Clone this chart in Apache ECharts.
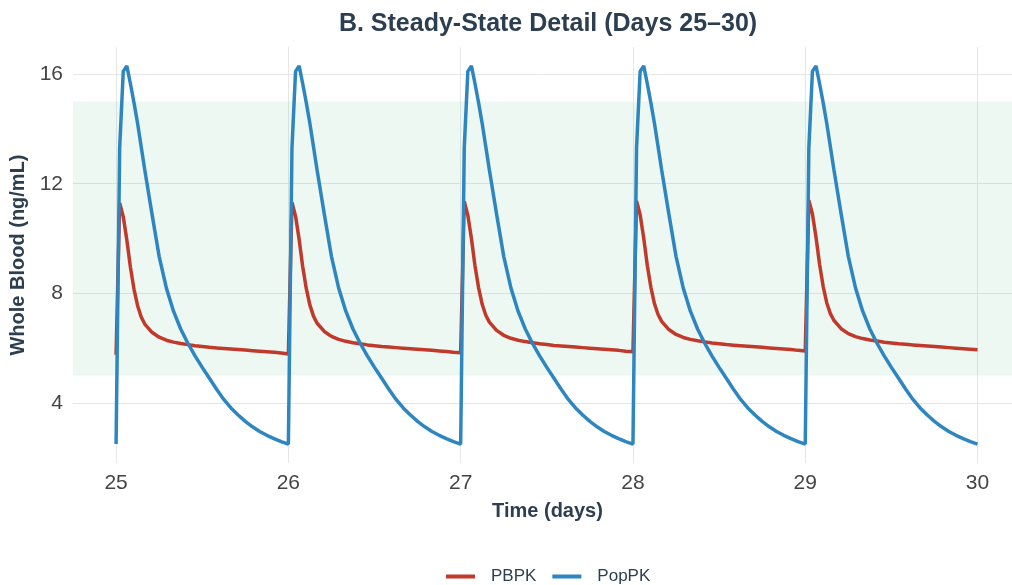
<!DOCTYPE html>
<html>
<head>
<meta charset="utf-8">
<script src="https://cdn.jsdelivr.net/npm/echarts@6/dist/echarts.min.js"></script>
<style>
  html, body { margin: 0; padding: 0; background: #ffffff; }
  #chart { width: 1012px; height: 585px; }
</style>
</head>
<body>
<div id="chart"></div>
<script>
// ---- Data ----
const titleText = 'B. Steady-State Detail (Days 25\u201330)';
const doseDays = [25, 26, 27, 28, 29];
const endDay = 30;
// sampling times within each dosing day (hours after dose)
const hoursAfterDose = [0, 0.5, 1, 1.5, 2, 2.5, 3, 3.5, 4, 5, 6, 7, 8, 9, 10, 11, 12, 13, 14, 15, 16, 17, 18, 19, 20, 21, 22, 23];

// PBPK whole-blood concentration (ng/mL), one row per dosing day
const pbpkValues = [
  [5.76, 11.30, 10.80, 9.95, 8.95, 8.15, 7.55, 7.14, 6.88, 6.58, 6.40, 6.29, 6.22, 6.17, 6.13, 6.09, 6.06, 6.03, 6.01, 5.99, 5.97, 5.95, 5.93, 5.91, 5.89, 5.87, 5.85, 5.82],
  [5.79, 11.32, 10.82, 9.97, 8.97, 8.17, 7.57, 7.17, 6.91, 6.61, 6.43, 6.32, 6.25, 6.20, 6.16, 6.12, 6.09, 6.06, 6.04, 6.02, 6.00, 5.98, 5.96, 5.94, 5.92, 5.90, 5.88, 5.85],
  [5.83, 11.35, 10.85, 10.00, 9.00, 8.20, 7.60, 7.20, 6.95, 6.65, 6.47, 6.36, 6.29, 6.24, 6.20, 6.16, 6.13, 6.10, 6.08, 6.06, 6.04, 6.02, 6.00, 5.98, 5.96, 5.94, 5.92, 5.89],
  [5.87, 11.37, 10.87, 10.02, 9.02, 8.22, 7.62, 7.23, 6.98, 6.68, 6.50, 6.39, 6.32, 6.27, 6.23, 6.19, 6.16, 6.13, 6.11, 6.09, 6.07, 6.05, 6.03, 6.01, 5.99, 5.97, 5.95, 5.92],
  [5.90, 11.40, 10.90, 10.05, 9.05, 8.25, 7.65, 7.26, 7.01, 6.71, 6.53, 6.42, 6.35, 6.30, 6.26, 6.22, 6.19, 6.16, 6.14, 6.12, 6.10, 6.08, 6.06, 6.04, 6.02, 6.00, 5.98, 5.96]
];
const pbpkEnd = 5.94;

// PopPK whole-blood concentration (ng/mL), one row per dosing day
const popPKValues = [
  [2.50, 13.30, 16.10, 16.30, 15.65, 14.95, 14.20, 13.35, 12.50, 10.90, 9.35, 8.20, 7.35, 6.70, 6.18, 5.72, 5.30, 4.90, 4.50, 4.13, 3.82, 3.56, 3.33, 3.13, 2.96, 2.82, 2.70, 2.59],
  [2.50, 13.30, 16.10, 16.30, 15.65, 14.95, 14.20, 13.35, 12.50, 10.90, 9.35, 8.20, 7.35, 6.70, 6.18, 5.72, 5.30, 4.90, 4.50, 4.13, 3.82, 3.56, 3.33, 3.13, 2.96, 2.82, 2.70, 2.59],
  [2.50, 13.30, 16.10, 16.30, 15.65, 14.95, 14.20, 13.35, 12.50, 10.90, 9.35, 8.20, 7.35, 6.70, 6.18, 5.72, 5.30, 4.90, 4.50, 4.13, 3.82, 3.56, 3.33, 3.13, 2.96, 2.82, 2.70, 2.59],
  [2.50, 13.30, 16.10, 16.30, 15.65, 14.95, 14.20, 13.35, 12.50, 10.90, 9.35, 8.20, 7.35, 6.70, 6.18, 5.72, 5.30, 4.90, 4.50, 4.13, 3.82, 3.56, 3.33, 3.13, 2.96, 2.82, 2.70, 2.59],
  [2.50, 13.30, 16.10, 16.30, 15.65, 14.95, 14.20, 13.35, 12.50, 10.90, 9.35, 8.20, 7.35, 6.70, 6.18, 5.72, 5.30, 4.90, 4.50, 4.13, 3.82, 3.56, 3.33, 3.13, 2.96, 2.82, 2.70, 2.59]
];
const popPKEnd = 2.50;

const xTicks = [25, 26, 27, 28, 29, 30];
const yTicks = [4, 8, 12, 16];
const targetRange = [5, 15];
const seriesNames = ['PBPK', 'PopPK'];

// ---- Build [time, value] pairs ----
function buildSeries(rows, endValue) {
  const out = [];
  doseDays.forEach((d, i) => {
    hoursAfterDose.forEach((h, j) => {
      out.push([d + h / 24, rows[i][j]]);
    });
  });
  out.push([endDay, endValue]);
  return out;
}
const pbpkData = buildSeries(pbpkValues, pbpkEnd);
const popPKData = buildSeries(popPKValues, popPKEnd);

const FONT = 'Liberation Sans, Arial, Helvetica, sans-serif';
const DARK = '#2c3e50';

const chart = echarts.init(document.getElementById('chart'), null, { renderer: 'canvas' });
chart.setOption({
  animation: false,
  backgroundColor: '#ffffff',
  textStyle: { fontFamily: FONT },
  title: {
    text: titleText,
    left: 543,
    textAlign: 'center',
    top: 7,
    textStyle: { fontFamily: FONT, fontSize: 25, fontWeight: 'bold', color: DARK }
  },
  grid: { left: 73, right: 0, top: 47, bottom: 122, containLabel: false },
  xAxis: {
    type: 'value',
    min: 24.75,
    max: 30.2,
    name: 'Time (days)',
    nameLocation: 'middle',
    nameGap: 38,
    nameTextStyle: { fontFamily: FONT, fontSize: 20, fontWeight: 'bold', color: DARK, padding: [0, 0, 0, 10] },
    axisLine: { show: false },
    axisTick: { show: false, customValues: xTicks },
    axisLabel: { customValues: xTicks, fontSize: 21, color: '#444444', margin: 10, fontFamily: FONT },
    splitLine: { show: true, lineStyle: { color: '#e6e6e6', width: 1 } }
  },
  yAxis: {
    type: 'value',
    min: 1.81,
    max: 16.99,
    name: 'Whole Blood (ng/mL)',
    nameLocation: 'middle',
    nameRotate: 90,
    nameGap: 43,
    nameTextStyle: { fontFamily: FONT, fontSize: 20, fontWeight: 'bold', color: DARK },
    axisLine: { show: false },
    axisTick: { show: false, customValues: yTicks },
    axisLabel: { customValues: yTicks, fontSize: 21, color: '#444444', margin: 10, fontFamily: FONT },
    splitLine: { show: true, lineStyle: { color: '#e6e6e6', width: 1 } }
  },
  legend: {
    data: seriesNames,
    top: 568,
    left: 446,
    padding: 0,
    icon: 'rect',
    itemWidth: 29,
    itemHeight: 4,
    itemGap: 16,
    textStyle: { fontFamily: FONT, fontSize: 17, color: DARK, padding: [0, 0, 0, 11] }
  },
  series: [
    {
      name: seriesNames[0],
      type: 'line',
      data: pbpkData,
      showSymbol: false,
      symbol: 'none',
      lineStyle: { color: '#c0392b', width: 3.5 },
      itemStyle: { color: '#c0392b' },
      z: 3,
      markArea: {
        silent: true,
        itemStyle: { color: 'rgba(39, 174, 96, 0.09)' },
        data: [[{ yAxis: targetRange[0] }, { yAxis: targetRange[1] }]]
      }
    },
    {
      name: seriesNames[1],
      type: 'line',
      data: popPKData,
      showSymbol: false,
      symbol: 'none',
      lineStyle: { color: '#2e86c1', width: 3.5 },
      itemStyle: { color: '#2e86c1' },
      z: 4
    }
  ]
});
</script>
</body>
</html>
